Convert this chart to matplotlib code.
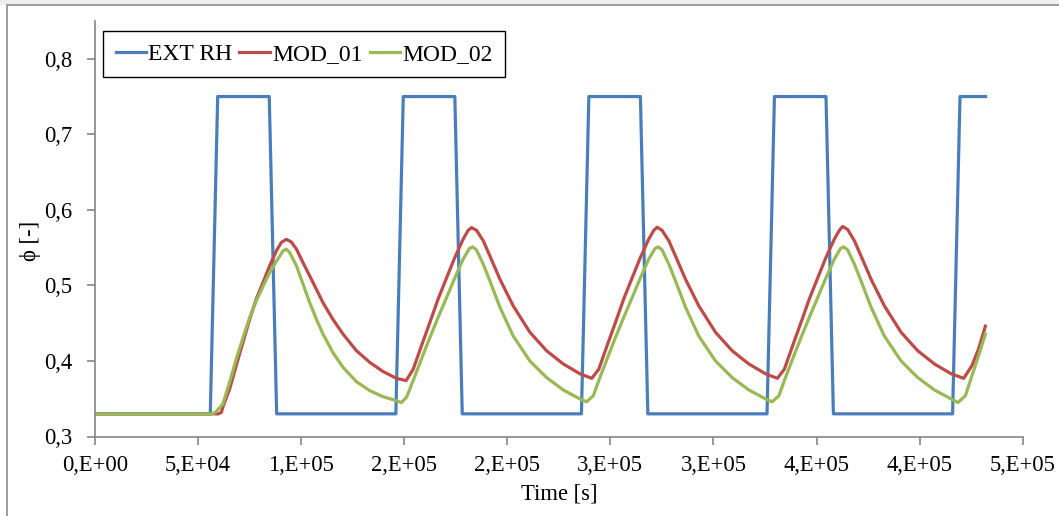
import matplotlib
matplotlib.use('Agg')
import matplotlib.pyplot as plt
from matplotlib.patches import Rectangle

# ---------------- data (time in s, relative humidity [-]) ----------------
ext_t = [0, 56000, 59600, 84600, 88200, 146000, 149600, 174600, 178200,
         236000, 239600, 264600, 268200, 326000, 329600, 354600, 358200,
         416000, 419600, 432000]
ext_v = [0.33, 0.33, 0.75, 0.75, 0.33, 0.33, 0.75, 0.75, 0.33,
         0.33, 0.75, 0.75, 0.33, 0.33, 0.75, 0.75, 0.33,
         0.33, 0.75, 0.75]

mod01_t = [0, 60000, 61400, 62100, 65400, 68600, 71900, 75100, 78300, 81600,
           84800, 88100, 90500, 92900, 95300, 97800, 101000, 105800, 110700,
           115500, 120400, 126900, 133400, 139800, 146300, 151000,
           154400, 158400, 162500, 166500, 170600, 174600, 178600, 181100,
           182700, 185100, 188400, 191600, 196500, 202900, 211000, 219100,
           227200, 235300, 241000,
           244400, 248400, 252500, 256500, 260600, 264600, 268600, 271100,
           272700, 275100, 278400, 281600, 286500, 292900, 301000, 309100,
           317200, 325300, 331000,
           334400, 338400, 342500, 346500, 350600, 354600, 358600, 361100,
           362700, 365100, 368400, 371600, 376500, 382900, 391000, 399100,
           407200, 415300, 421400, 425400, 428600, 431900]
mod01_v = [0.330, 0.330, 0.332, 0.339, 0.363, 0.394, 0.425, 0.455, 0.482, 0.504,
           0.526, 0.546, 0.557, 0.561, 0.5575, 0.548, 0.530, 0.504, 0.477,
           0.455, 0.4355, 0.4135, 0.398, 0.386, 0.377, 0.374,
           0.389, 0.420, 0.451, 0.482, 0.510, 0.537, 0.561, 0.573,
           0.5765, 0.573, 0.559, 0.539, 0.508, 0.473, 0.438, 0.4135,
           0.396, 0.383, 0.377,
           0.389, 0.420, 0.451, 0.482, 0.510, 0.537, 0.561, 0.573,
           0.577, 0.573, 0.559, 0.539, 0.508, 0.473, 0.438, 0.4135,
           0.396, 0.383, 0.377,
           0.389, 0.420, 0.451, 0.482, 0.510, 0.537, 0.561, 0.573,
           0.578, 0.574, 0.559, 0.539, 0.508, 0.473, 0.438, 0.4135,
           0.396, 0.383, 0.377, 0.394, 0.416, 0.446]

mod02_t = [0, 57000, 58900, 62100, 65400, 68600, 71900, 75100, 78300, 81600,
           84800, 88100, 91300, 92900, 94500, 97800, 101000, 104200, 107500,
           110700, 115500, 120400, 126900, 133400, 139800, 146300, 148700,
           151200, 154400, 158400, 162500, 166500, 170600, 174600, 178600,
           181600, 183200, 185100, 188400, 191600, 196500, 202900, 211000,
           219100, 227200, 235300, 238500,
           241800, 244400, 248400, 252500, 256500, 260600, 264600, 268600,
           271600, 273200, 275100, 278400, 281600, 286500, 292900, 301000,
           309100, 317200, 325300, 328500,
           331800, 334400, 338400, 342500, 346500, 350600, 354600, 358600,
           361600, 363200, 365100, 368400, 371600, 376500, 382900, 391000,
           399100, 407200, 415300, 418600, 422200, 425400, 428600, 431900]
mod02_v = [0.330, 0.330, 0.333, 0.343, 0.372, 0.4025, 0.431, 0.4576, 0.4795, 0.499,
           0.517, 0.532, 0.5456, 0.548, 0.5435, 0.526, 0.5016, 0.4774, 0.455,
           0.4355, 0.411, 0.3915, 0.3725, 0.3606, 0.3527, 0.3474, 0.345,
           0.352, 0.374, 0.4025, 0.431, 0.4576, 0.484, 0.510, 0.5346,
           0.5487, 0.551, 0.547, 0.528, 0.506, 0.471, 0.433, 0.400,
           0.378, 0.3616, 0.3497, 0.346,
           0.354, 0.374, 0.4025, 0.431, 0.4576, 0.484, 0.510, 0.5346,
           0.5487, 0.551, 0.547, 0.528, 0.506, 0.471, 0.433, 0.400,
           0.378, 0.3616, 0.3497, 0.346,
           0.354, 0.374, 0.4025, 0.431, 0.4576, 0.484, 0.510, 0.5346,
           0.5487, 0.551, 0.547, 0.528, 0.506, 0.471, 0.433, 0.400,
           0.378, 0.3616, 0.3497, 0.345, 0.354, 0.3805, 0.407, 0.4355]

series_names = ['EXT RH', 'MOD_01', 'MOD_02']
series_colors = ['#4A7EBB', '#BE4B48', '#98B954']

x_ticks = [0, 50000, 100000, 150000, 200000, 250000, 300000, 350000, 400000, 450000]
x_tick_labels = ['0,E+00', '5,E+04', '1,E+05', '2,E+05', '2,E+05',
                 '3,E+05', '3,E+05', '4,E+05', '4,E+05', '5,E+05']
y_ticks = [0.3, 0.4, 0.5, 0.6, 0.7, 0.8]
y_tick_labels = ['0,3', '0,4', '0,5', '0,6', '0,7', '0,8']

# ---------------- figure ----------------
plt.rcParams['font.family'] = ['Liberation Serif', 'DejaVu Serif']
FS = 16.3
FS_LEG = 17
W, H = 1059, 516
fig = plt.figure(figsize=(W / 100, H / 100), dpi=100)

# chart-area frame
fig.add_artist(Rectangle((0, 1 - 5 / H), 1, 5 / H, transform=fig.transFigure,
                         facecolor='#eeeeee', edgecolor='none', zorder=0))
fig.add_artist(Rectangle((7 / W, -0.2), 1.5, 1.2 - 5 / H, transform=fig.transFigure,
                         fill=False, edgecolor='#8c8c8c', lw=1.2, zorder=1))

x0, x1 = 94.8, 1022.7
y0, y1 = 436.5, 21.0
ax = fig.add_axes([x0 / W, 1 - y0 / H, (x1 - x0) / W, (y0 - y1) / H])

for (t, v), name, col in zip([(ext_t, ext_v), (mod01_t, mod01_v), (mod02_t, mod02_v)],
                             series_names, series_colors):
    ax.plot(t, v, color=col, lw=2.3, label=name, solid_joinstyle='round')

ax.set_xlim(0, 450000)
ax.set_ylim(0.3, 0.85)
ax.set_xticks(x_ticks)
ax.set_xticklabels(x_tick_labels, fontsize=FS)
ax.set_yticks(y_ticks)
ax.set_yticklabels(y_tick_labels, fontsize=FS)

for s in ['top', 'right']:
    ax.spines[s].set_visible(False)
for s in ['left', 'bottom']:
    ax.spines[s].set_color('#868686')
    ax.spines[s].set_linewidth(1.2)
ax.tick_params(axis='both', direction='out', length=6, width=1.2, color='#868686',
               labelcolor='black')
ax.tick_params(axis='y', pad=10)
ax.tick_params(axis='x', pad=7)

ax.set_xlabel('Time [s]', fontsize=FS)
ax.xaxis.set_label_coords(0.5, -0.112)
ax.set_ylabel('ϕ [-]', fontsize=FS)
ax.yaxis.set_label_coords(-0.058, 0.47)

leg = ax.legend(loc='upper left', bbox_to_anchor=(103.3 / W, 1 - 31 / H),
                bbox_transform=fig.transFigure, ncol=3, fontsize=FS_LEG,
                frameon=True, fancybox=False, framealpha=1, edgecolor='black',
                borderaxespad=0, handlelength=1.3, handletextpad=0.08,
                columnspacing=0.3, borderpad=0.52)
leg.get_frame().set_linewidth(1.0)

fig.savefig('out.png', dpi=100)
